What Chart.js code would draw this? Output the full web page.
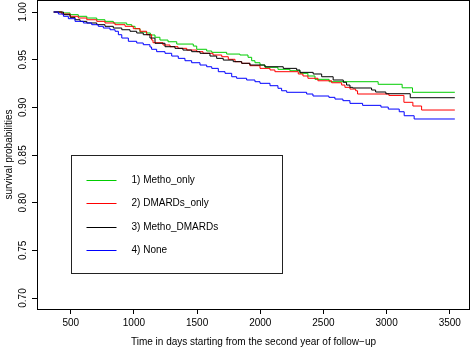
<!DOCTYPE html>
<html>
<head>
<meta charset="utf-8">
<script src="https://cdn.jsdelivr.net/npm/chart.js@4/dist/chart.umd.min.js"></script>
<style>
  html, body { margin: 0; padding: 0; background: #fff; }
  #wrap { width: 471px; height: 347px; }
</style>
</head>
<body>
<div id="wrap"><canvas id="km" width="471" height="347"></canvas></div>
<script>
// legend order = stratum order
const strata = ["1) Metho_only", "2) DMARDs_only", "3) Metho_DMARDs", "4) None"];
const colors = ["#00cd00", "#ff0000", "#000000", "#0000ff"];

// Kaplan-Meier steps: day of the drop, survival after it
const methoOnlyDays = [365, 429, 495, 560, 627, 706, 771, 837, 943, 983, 1009, 1048, 1101, 1130, 1167, 1206, 1270, 1339, 1470, 1497, 1576, 1616, 1734, 1839, 1903, 1932, 1958, 1998, 2037, 2140, 2235, 2314, 2377, 2433, 2545, 2933, 3123, 3205, 3540];
const methoOnlySurv = [1.000, 0.999, 0.9972, 0.9955, 0.9937, 0.9919, 0.9902, 0.9885, 0.9867, 0.985, 0.9825, 0.979, 0.978, 0.9759, 0.9735, 0.9706, 0.9688, 0.9664, 0.9643, 0.9609, 0.9591, 0.9577, 0.9559, 0.9549, 0.9525, 0.9489, 0.9468, 0.9444, 0.942, 0.9399, 0.9384, 0.9357, 0.9329, 0.9294, 0.9269, 0.9242, 0.9205, 0.9158, 0.9158];

const dmardsOnlyDays = [365, 429, 495, 560, 627, 706, 771, 850, 930, 995, 1048, 1101, 1140, 1151, 1230, 1286, 1349, 1418, 1497, 1547, 1626, 1695, 1747, 1800, 1853, 1918, 1998, 2077, 2116, 2301, 2338, 2377, 2456, 2565, 2644, 2670, 2710, 2755, 2770, 3018, 3137, 3208, 3277, 3540];
const dmardsOnlySurv = [1.000, 0.9979, 0.9955, 0.9937, 0.9919, 0.9902, 0.9885, 0.9867, 0.985, 0.9825, 0.9798, 0.9762, 0.9706, 0.9678, 0.9654, 0.9636, 0.9619, 0.9601, 0.9584, 0.9567, 0.9549, 0.9531, 0.9504, 0.9479, 0.9462, 0.9437, 0.9409, 0.9392, 0.9374, 0.935, 0.9329, 0.9305, 0.9279, 0.9258, 0.9234, 0.921, 0.9192, 0.9174, 0.914, 0.9125, 0.9053, 0.9014, 0.8972, 0.8972];

const methoDmardsDays = [365, 442, 495, 534, 574, 627, 706, 771, 837, 904, 969, 1022, 1074, 1127, 1167, 1246, 1325, 1388, 1457, 1523, 1602, 1655, 1707, 1786, 1853, 1918, 2037, 2182, 2288, 2314, 2419, 2486, 2577, 2657, 2683, 2710, 2731, 2881, 2913, 2994, 3187, 3540];
const methoDmardsSurv = [1.000, 0.9972, 0.9944, 0.9919, 0.9902, 0.9885, 0.9867, 0.985, 0.9832, 0.9814, 0.9798, 0.978, 0.9762, 0.9727, 0.9672, 0.9636, 0.9619, 0.9601, 0.9584, 0.9567, 0.9538, 0.9514, 0.9496, 0.9479, 0.9462, 0.9444, 0.9426, 0.9409, 0.9392, 0.9367, 0.935, 0.9321, 0.9287, 0.9263, 0.9234, 0.921, 0.9203, 0.9182, 0.9161, 0.9143, 0.9101, 0.9101];

const noneDays = [365, 402, 442, 481, 534, 600, 666, 718, 758, 811, 851, 877, 904, 956, 1022, 1074, 1127, 1140, 1180, 1246, 1299, 1351, 1404, 1457, 1523, 1576, 1616, 1668, 1721, 1774, 1813, 1892, 1958, 1998, 2077, 2140, 2169, 2209, 2367, 2417, 2543, 2591, 2654, 2710, 2810, 2955, 3013, 3100, 3139, 3218, 3540];
const noneSurv = [1.000, 0.9979, 0.9955, 0.993, 0.9902, 0.9885, 0.9867, 0.985, 0.9832, 0.9814, 0.9798, 0.9762, 0.9727, 0.9693, 0.9675, 0.9657, 0.9633, 0.9609, 0.9584, 0.9567, 0.9538, 0.9514, 0.9489, 0.9468, 0.9444, 0.9426, 0.9409, 0.9374, 0.9357, 0.9321, 0.9305, 0.9287, 0.9269, 0.9252, 0.9227, 0.92, 0.9174, 0.9158, 0.914, 0.9119, 0.9105, 0.9087, 0.907, 0.9042, 0.9021, 0.9003, 0.8982, 0.8954, 0.8912, 0.8878, 0.8878];

const xTicks = [500, 1000, 1500, 2000, 2500, 3000, 3500];
const yTicks = [0.70, 0.75, 0.80, 0.85, 0.90, 0.95, 1.00];

const FONT = "'Liberation Sans', Arial, Helvetica, sans-serif";

const series = [
  [methoOnlyDays, methoOnlySurv],
  [dmardsOnlyDays, dmardsOnlySurv],
  [methoDmardsDays, methoDmardsSurv],
  [noneDays, noneSurv],
];

const datasets = series.map(([days, surv], i) => ({
  label: strata[i],
  data: days.map((d, j) => ({ x: d, y: surv[j] })),
  borderColor: colors[i],
  borderWidth: 1,
  pointRadius: 0,
  stepped: "before",
  fill: false,
  order: 3 - i, // R draws the first stratum underneath
}));

// box around the plot, rotated y labels (R style) and the boxed legend
const rPlotPlugin = {
  id: "rPlot",
  afterDraw(chart) {
    const { ctx, chartArea, scales } = chart;
    const { left, top, right, bottom } = chartArea;
    ctx.save();
    ctx.strokeStyle = "#000";
    ctx.lineWidth = 1;
    ctx.strokeRect(left + 0.5, top + 0.5, right - left - 1, bottom - top);

    // y tick labels, read bottom to top
    ctx.fillStyle = "#000";
    ctx.font = "10px " + FONT;
    ctx.textAlign = "center";
    ctx.textBaseline = "middle";
    scales.y.ticks.forEach(t => {
      const py = scales.y.getPixelForValue(t.value);
      ctx.save();
      ctx.translate(left - 14, py);
      ctx.rotate(-Math.PI / 2);
      ctx.fillText(t.value.toFixed(2), 0, 0);
      ctx.restore();
    });

    // legend placed at (500, 0.85) in data units, like legend(500, 0.85, ...)
    const lx = Math.round(scales.x.getPixelForValue(500)) + 0.5;
    const ly = Math.round(scales.y.getPixelForValue(0.85)) + 0.5;
    const lw = 211, lh = 118;
    ctx.strokeStyle = "#222";
    ctx.strokeRect(lx, ly, lw, lh);
    ctx.textAlign = "left";
    chart.data.datasets.forEach((ds, i) => {
      const ry = Math.round(ly + 24 + i * 23.6) + 0.5;
      ctx.strokeStyle = ds.borderColor;
      ctx.beginPath();
      ctx.moveTo(lx + 15, ry);
      ctx.lineTo(lx + 45, ry);
      ctx.stroke();
      ctx.fillText(ds.label, lx + 60, ry);
    });
    ctx.restore();
  },
};

new Chart(document.getElementById("km"), {
  type: "line",
  data: { datasets },
  options: {
    responsive: false,
    animation: false,
    devicePixelRatio: 1,
    layout: { padding: { top: 0, right: 1, left: 0, bottom: 0 } },
    plugins: { legend: { display: false }, tooltip: { enabled: false } },
    scales: {
      x: {
        type: "linear",
        min: 233,
        max: 3660,
        afterBuildTicks: s => { s.ticks = xTicks.map(v => ({ value: v })); },
        afterFit: s => { s.height = 38; },
        grid: { drawOnChartArea: false, drawTicks: true, tickLength: 5, color: "#000" },
        border: { display: false },
        ticks: {
          color: "#000",
          padding: 3,
          maxRotation: 0,
          font: { size: 10, family: FONT },
          callback: v => String(v),
        },
        title: {
          display: true,
          text: "Time in days starting from the second year of follow\u2212up",
          color: "#000",
          font: { size: 10, family: FONT, lineHeight: 1 },
          padding: { top: 0, bottom: 0 },
        },
      },
      y: {
        type: "linear",
        min: 0.6885,
        max: 1.0126,
        afterBuildTicks: s => { s.ticks = yTicks.map(v => ({ value: v })); },
        afterFit: s => { s.width = 37; },
        grid: { drawOnChartArea: false, drawTicks: true, tickLength: 5, color: "#000" },
        border: { display: false },
        ticks: { display: false },
        title: {
          display: true,
          text: "survival probabilities",
          color: "#000",
          font: { size: 10, family: FONT, lineHeight: 1.2 },
          padding: { top: 3, bottom: 0 },
        },
      },
    },
  },
  plugins: [rPlotPlugin],
});
</script>
</body>
</html>
